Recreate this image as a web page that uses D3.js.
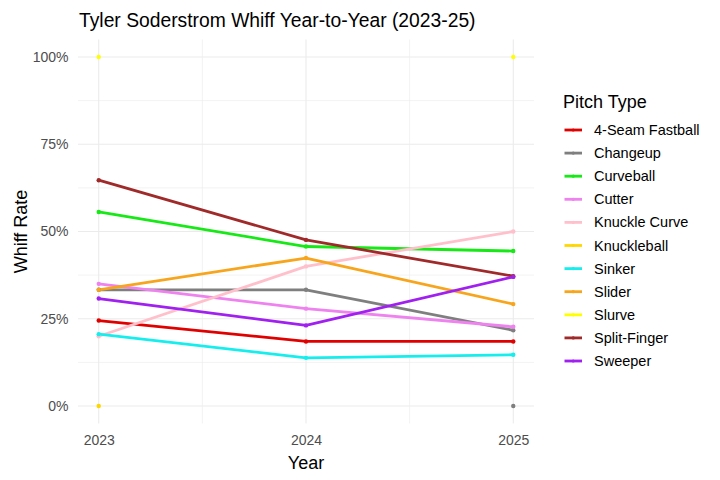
<!DOCTYPE html>
<html>
<head>
<meta charset="utf-8">
<script src="https://cdn.jsdelivr.net/npm/d3@7"></script>
<style>
  body { margin: 0; background: #ffffff; }
  text { font-family: "Liberation Sans", Arial, sans-serif; }
</style>
</head>
<body>
<div id="chart"></div>
<script>
//*************************1. Data

const years = [2023, 2024, 2025]
const pitchTypes = ["4-Seam Fastball","Changeup","Curveball","Cutter","Knuckle Curve","Knuckleball","Sinker","Slider","Slurve","Split-Finger","Sweeper"]
const pitchColors = ["#e00000","#7f7f7f","#16e916","#ee82ee","#ffc0cb","#ffd700","#16eeee","#f7a51c","#ffff00","#a02a2a","#a020f0"]

// whiff rate per year (2023, 2024, 2025), null = not thrown
const fourSeamWhiff     = [0.245, 0.185, 0.185]
const changeupWhiff     = [0.333, 0.333, 0.217]
const curveballWhiff    = [0.556, 0.457, 0.444]
const cutterWhiff       = [0.350, 0.279, 0.227]
const knuckleCurveWhiff = [0.200, 0.400, 0.500]
const knuckleballWhiff  = [0, null, null]
const sinkerWhiff       = [0.206, 0.138, 0.147]
const sliderWhiff       = [0.333, 0.424, 0.292]
const slurveWhiff       = [1, null, 1]
const splitFingerWhiff  = [0.647, 0.476, 0.372]
const sweeperWhiff      = [0.308, 0.231, 0.370]
// unlabelled pitch (NA type, drawn grey, not in legend)
const unknownWhiff      = [null, null, 0]

const yTicks = [0, 0.25, 0.5, 0.75, 1]
const yMinorTicks = [0.125, 0.375, 0.625, 0.875]
const xMinorTicks = [2023.5, 2024.5]

const series = [
  fourSeamWhiff, changeupWhiff, curveballWhiff, cutterWhiff, knuckleCurveWhiff,
  knuckleballWhiff, sinkerWhiff, sliderWhiff, slurveWhiff, splitFingerWhiff, sweeperWhiff
].map((vals, i) => ({
  name: pitchTypes[i],
  color: pitchColors[i],
  values: years.map((y, j) => ({year: y, rate: vals[j]}))
}))
series.push({
  name: null,
  color: "#7f7f7f",
  values: years.map((y, j) => ({year: y, rate: unknownWhiff[j]}))
})

//*************************2. Dimensions

const dimensions = {
  width: 720,
  height: 480,
  margin: { top: 39.5, right: 186, bottom: 56.5, left: 78 }
}
dimensions.boundedWidth = dimensions.width - dimensions.margin.left - dimensions.margin.right
dimensions.boundedHeight = dimensions.height - dimensions.margin.top - dimensions.margin.bottom

//*************************3. Wrapper and bounds

const wrapper = d3.select("#chart")
  .append("svg")
  .attr("width", dimensions.width)
  .attr("height", dimensions.height)

const bounds = wrapper.append("g")
  .attr("transform", `translate(${dimensions.margin.left},${dimensions.margin.top})`)

//*************************4. Accessors and scales

const yearAccessor = d => d.year
const rateAccessor = d => d.rate

// ggplot-style 5% expansion on both axes
const xPad = dimensions.boundedWidth * 0.05 / 1.1
const yPad = dimensions.boundedHeight * 0.05 / 1.1

const xScale = d3.scaleLinear()
  .domain(d3.extent(years))
  .range([xPad, dimensions.boundedWidth - xPad])

const yScale = d3.scaleLinear()
  .domain([0, 1])
  .range([dimensions.boundedHeight - yPad, yPad])

//*************************5. Grid

const gridGroup = bounds.append("g")

gridGroup.selectAll(".yminor")
  .data(yMinorTicks)
  .join("line")
  .attr("x1", 0).attr("x2", dimensions.boundedWidth)
  .attr("y1", d => yScale(d)).attr("y2", d => yScale(d))
  .attr("stroke", "#ebebeb").attr("stroke-width", 0.6)

gridGroup.selectAll(".xminor")
  .data(xMinorTicks)
  .join("line")
  .attr("y1", 0).attr("y2", dimensions.boundedHeight)
  .attr("x1", d => xScale(d)).attr("x2", d => xScale(d))
  .attr("stroke", "#ebebeb").attr("stroke-width", 0.6)

gridGroup.selectAll(".ymajor")
  .data(yTicks)
  .join("line")
  .attr("x1", 0).attr("x2", dimensions.boundedWidth)
  .attr("y1", d => yScale(d)).attr("y2", d => yScale(d))
  .attr("stroke", "#ebebeb").attr("stroke-width", 1.1)

gridGroup.selectAll(".xmajor")
  .data(years)
  .join("line")
  .attr("y1", 0).attr("y2", dimensions.boundedHeight)
  .attr("x1", d => xScale(d)).attr("x2", d => xScale(d))
  .attr("stroke", "#ebebeb").attr("stroke-width", 1.1)

//*************************6. Axes (no domain line, no ticks)

const yAxisGenerator = d3.axisLeft(yScale)
  .tickValues(yTicks)
  .tickFormat(d3.format(".0%"))
  .tickSize(0)
  .tickPadding(9.5)

const xAxisGenerator = d3.axisBottom(xScale)
  .tickValues(years)
  .tickFormat(d3.format("d"))
  .tickSize(0)
  .tickPadding(12)

const yAxis = bounds.append("g").call(yAxisGenerator)
const xAxis = bounds.append("g")
  .attr("transform", `translate(0,${dimensions.boundedHeight})`)
  .call(xAxisGenerator)

;[xAxis, yAxis].forEach(ax => {
  ax.select(".domain").remove()
  ax.selectAll("text")
    .attr("fill", "#4d4d4d")
    .style("font-size", "14px")
    .style("font-family", "'Liberation Sans', Arial, sans-serif")
})

//*************************7. Lines and points

const lineGenerator = d3.line()
  .defined(d => rateAccessor(d) !== null)
  .x(d => xScale(yearAccessor(d)))
  .y(d => yScale(rateAccessor(d)))

const linesGroup = bounds.append("g")

linesGroup.selectAll("path")
  .data(series)
  .join("path")
  .attr("d", d => lineGenerator(d.values))
  .attr("fill", "none")
  .attr("stroke", d => d.color)
  .attr("stroke-width", 2.8)
  .attr("stroke-linejoin", "round")

linesGroup.selectAll("g.pts")
  .data(series)
  .join("g")
  .attr("class", "pts")
  .attr("fill", d => d.color)
  .selectAll("circle")
  .data(d => d.values.filter(v => rateAccessor(v) !== null))
  .join("circle")
  .attr("cx", d => xScale(yearAccessor(d)))
  .attr("cy", d => yScale(rateAccessor(d)))
  .attr("r", 2.2)

//*************************8. Titles

wrapper.append("text")
  .text("Tyler Soderstrom Whiff Year-to-Year (2023-25)")
  .attr("x", dimensions.margin.left + 1)
  .attr("y", 27)
  .attr("fill", "#000000")
  .style("font-size", "19.3px")

wrapper.append("text")
  .text("Year")
  .attr("x", dimensions.margin.left + dimensions.boundedWidth / 2)
  .attr("y", 469)
  .attr("text-anchor", "middle")
  .attr("fill", "#000000")
  .style("font-size", "18px")

wrapper.append("text")
  .text("Whiff Rate")
  .attr("transform", `translate(27,${dimensions.margin.top + dimensions.boundedHeight / 2}) rotate(-90)`)
  .attr("text-anchor", "middle")
  .attr("fill", "#000000")
  .style("font-size", "18px")

//*************************9. Legend

const legend = wrapper.append("g")
  .attr("transform", "translate(563,0)")

legend.append("text")
  .text("Pitch Type")
  .attr("x", 0)
  .attr("y", 108)
  .attr("fill", "#000000")
  .style("font-size", "18px")

const legendItems = legend.selectAll("g.item")
  .data(series.filter(d => d.name !== null))
  .join("g")
  .attr("class", "item")
  .attr("transform", (d, i) => `translate(0,${130 + i * 23.1})`)

legendItems.append("line")
  .attr("x1", 1.5).attr("x2", 19)
  .attr("stroke", d => d.color)
  .attr("stroke-width", 2.8)

legendItems.append("circle")
  .attr("cx", 10.2)
  .attr("r", 1.6)
  .attr("fill", d => d.color)

legendItems.append("text")
  .text(d => d.name)
  .attr("x", 31)
  .attr("dy", "0.35em")
  .attr("fill", "#000000")
  .style("font-size", "14.5px")
</script>
</body>
</html>
